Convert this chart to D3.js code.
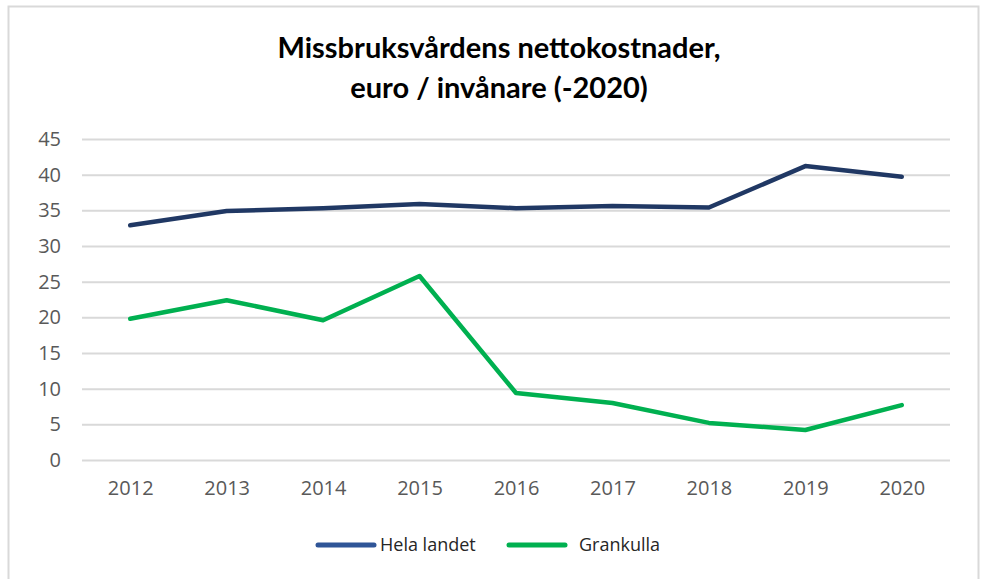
<!DOCTYPE html>
<html>
<head>
<meta charset="utf-8">
<script src="https://cdn.jsdelivr.net/npm/d3@7"></script>
<style>
  body { margin: 0; background: #fff; }
  svg { display: block; }
</style>
</head>
<body>
<div id="chart"></div>
<script>
// Chart data
const years = ['2012', '2013', '2014', '2015', '2016', '2017', '2018', '2019', '2020'];
const helaLandet = [32.9, 34.9, 35.3, 35.9, 35.3, 35.6, 35.4, 41.2, 39.7];
const grankulla = [19.8, 22.4, 19.6, 25.8, 9.4, 8.0, 5.2, 4.2, 7.7];
const yTicks = [0, 5, 10, 15, 20, 25, 30, 35, 40, 45];
const titleLines = ['Missbruksvårdens nettokostnader,', 'euro / invånare (-2020)'];

const series = [
  { name: 'Hela landet', values: helaLandet, color: '#203864', legendColor: '#2f5597' },
  { name: 'Grankulla', values: grankulla, color: '#00b050', legendColor: '#00b050' },
];

const width = 986;
const height = 579;
const margin = { top: 139, right: 36, bottom: 119, left: 82 };
const plotW = width - margin.left - margin.right;
const plotH = height - margin.top - margin.bottom;

const svg = d3.select('#chart').append('svg')
  .attr('width', width)
  .attr('height', height);

// Outer frame
svg.append('rect')
  .attr('x', 8.5)
  .attr('y', 6.5)
  .attr('width', 970)
  .attr('height', 600)
  .attr('fill', '#fff')
  .attr('stroke', '#d9d9d9')
  .attr('stroke-width', 2);

// Title
svg.append('text')
  .attr('text-anchor', 'middle')
  .attr('font-family', 'Lato, sans-serif')
  .attr('font-weight', 'bold')
  .attr('font-size', 29)
  .attr('fill', '#000')
  .selectAll('tspan')
  .data(titleLines)
  .enter()
  .append('tspan')
  .attr('x', 499)
  .attr('y', (d, i) => 58 + i * 40)
  .text(d => d);

const x = d3.scalePoint()
  .domain(years)
  .range([0, plotW])
  .padding(0.5);

const y = d3.scaleLinear()
  .domain([0, 45])
  .range([plotH, 0]);

const g = svg.append('g')
  .attr('transform', `translate(${margin.left}, ${margin.top})`);

// Gridlines + y labels
const yAxis = d3.axisLeft(y)
  .tickValues(yTicks)
  .tickSize(-plotW)
  .tickPadding(21);

g.append('g')
  .attr('class', 'axis axis--y')
  .call(yAxis)
  .call(s => s.select('.domain').remove())
  .call(s => s.selectAll('line').attr('stroke', '#d9d9d9').attr('stroke-width', 2))
  .call(s => s.selectAll('text')
    .attr('font-family', '"Open Sans", sans-serif')
    .attr('font-size', 20)
    .attr('fill', '#595959'));

const xAxis = d3.axisBottom(x)
  .tickSize(0)
  .tickPadding(21);

g.append('g')
  .attr('class', 'axis axis--x')
  .attr('transform', `translate(0, ${plotH})`)
  .call(xAxis)
  .call(s => s.select('.domain').remove())
  .call(s => s.selectAll('text')
    .attr('font-family', '"Open Sans", sans-serif')
    .attr('font-size', 20)
    .attr('fill', '#595959'));

const line = d3.line()
  .x((d, i) => x(years[i]))
  .y(d => y(d));

g.selectAll('.series')
  .data(series)
  .enter()
  .append('path')
  .attr('class', 'series')
  .attr('fill', 'none')
  .attr('stroke', d => d.color)
  .attr('stroke-width', 4.5)
  .attr('stroke-linejoin', 'round')
  .attr('stroke-linecap', 'round')
  .attr('d', d => line(d.values));

// Legend
const legendPos = [318, 509];
const legend = svg.append('g')
  .selectAll('g')
  .data(series)
  .enter()
  .append('g')
  .attr('transform', (d, i) => `translate(${legendPos[i]}, 545)`);

legend.append('line')
  .attr('x1', 0)
  .attr('x2', 56)
  .attr('stroke', d => d.legendColor)
  .attr('stroke-width', 5)
  .attr('stroke-linecap', 'round');

legend.append('text')
  .attr('x', (d, i) => i === 0 ? 62 : 70)
  .attr('dy', '0.35em')
  .attr('font-family', '"Open Sans", sans-serif')
  .attr('font-size', 18)
  .attr('fill', '#262626')
  .text(d => d.name);
</script>
</body>
</html>
